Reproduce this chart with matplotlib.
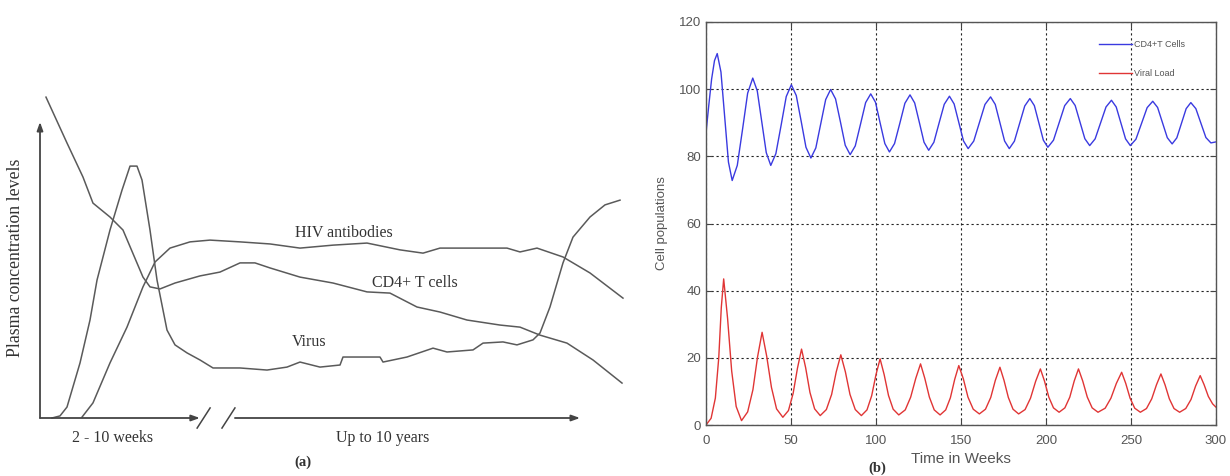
import matplotlib
matplotlib.use("Agg")
import matplotlib.pyplot as plt

# ---------------- Panel (a): schematic (relative units) ----------------
cd4_a_x = [1.11, 5.0, 7.96, 9.81, 12.96, 15.37, 19.07, 20.37, 22.22, 25.0, 29.63, 33.33,
           37.04, 39.81, 42.59, 48.15, 54.26, 60.56, 64.81, 69.81, 74.07, 79.07, 85.19,
           88.89, 92.59, 97.59, 102.41, 107.78]
cd4_a_y = [108.4, 92.9, 81.4, 72.6, 67.9, 63.5, 47.6, 44.3, 43.6, 45.6, 48.0, 49.3,
           52.4, 52.4, 50.7, 47.6, 45.6, 42.6, 42.2, 37.5, 35.8, 33.1, 31.4,
           30.7, 28.0, 25.3, 19.6, 11.8]

virus_a_x = [2.22, 3.70, 5.0, 7.41, 9.26, 10.56, 12.96, 15.19, 16.67, 17.96, 18.89, 20.37,
             21.67, 22.59, 23.52, 25.0, 27.22, 29.63, 32.04, 37.04, 42.04, 45.74, 48.15,
             51.85, 55.56, 56.11, 62.96, 63.52, 67.96, 72.78, 75.37, 80.19, 82.04, 85.74,
             88.33, 91.30, 92.59, 94.44, 96.85, 98.70, 101.85, 104.63, 107.41]
virus_a_y = [0, 0.7, 3.7, 18.6, 33.1, 46.6, 63.5, 77.0, 85.1, 85.1, 80.4, 63.5,
             46.6, 38.2, 29.7, 24.7, 22.0, 19.6, 16.9, 16.9, 16.2, 17.2, 18.9,
             17.2, 17.9, 20.6, 20.6, 18.9, 20.6, 23.6, 22.3, 23.0, 25.3, 25.7,
             24.7, 26.4, 28.7, 37.5, 52.4, 61.1, 67.9, 72.0, 73.6]

antib_a_x = [7.78, 9.81, 12.96, 16.11, 19.07, 21.30, 24.07, 27.78, 31.48, 37.04, 42.59,
             48.15, 54.26, 60.56, 66.67, 70.93, 74.07, 86.48, 88.89, 92.04, 96.85,
             101.85, 107.96]
antib_a_y = [0.3, 5.1, 18.6, 30.7, 44.3, 52.7, 57.4, 59.5, 60.1, 59.5, 58.8,
             57.4, 58.4, 59.1, 56.8, 55.7, 57.4, 57.4, 56.1, 57.4, 54.4,
             49.0, 40.5]

# ---------------- Panel (b): simulation ----------------
cd4_t = [0, 1.6, 3.3, 5.0, 6.6, 8.8, 11.0, 13.2, 15.4, 18.4, 21.5, 24.5, 27.5,
         30.15, 32.8, 35.45, 38.1, 41.1, 44.2, 47.2, 50.2, 53.1, 56.0, 58.8, 61.7,
         64.6, 67.5, 70.4, 73.3, 76.2, 79.1, 81.9, 84.8, 87.8, 90.9, 93.9, 96.9,
         99.7, 102.4, 105.2, 107.9, 110.9, 114.0, 117.0, 120.0, 122.75, 125.5, 128.25,
         131.0, 134.05, 137.1, 140.15, 143.2, 145.95, 148.7, 151.45, 154.2, 157.5,
         160.8, 164.1, 167.4, 170.15, 172.9, 175.65, 178.4, 181.4, 184.45, 187.5,
         190.5, 193.15, 195.8, 198.45, 201.1, 204.4, 207.7, 211.0, 214.3, 217.15,
         220.0, 222.85, 225.7, 228.9, 232.1, 235.3, 238.5, 241.3, 244.05, 246.8,
         249.6, 252.9, 256.2, 259.5, 262.8, 265.65, 268.5, 271.35, 274.2, 276.95,
         279.7, 282.45, 285.2, 288.15, 291.1, 294.05, 297.0, 300.0]
cd4_v = [87.0, 95.0, 103.0, 108.5, 110.6, 105.1, 91.7, 78.3, 72.8, 77.3, 88.05, 98.8, 103.3,
         99.5, 90.3, 81.1, 77.3, 80.8, 89.3, 97.8, 101.3, 98.1, 90.4, 82.7, 79.5,
         82.5, 89.7, 96.9, 99.9, 97.1, 90.2, 83.3, 80.5, 83.1, 89.6, 96.0, 98.6,
         96.1, 90.0, 83.8, 81.3, 83.8, 89.8, 95.8, 98.3, 95.9, 90.1, 84.2,
         81.8, 84.2, 89.9, 95.5, 97.9, 95.6, 90.1, 84.6, 82.3, 84.55,
         90.0, 95.45, 97.7, 95.45, 90.0, 84.55, 82.3, 84.5, 89.75, 95.0,
         97.2, 95.1, 89.95, 84.8, 82.7, 84.8, 89.95, 95.1, 97.2, 95.15,
         90.2, 85.25, 83.2, 85.2, 89.95, 94.7, 96.7, 94.7, 89.95, 85.2,
         83.2, 85.1, 89.8, 94.5, 96.4, 94.55, 90.05, 85.55, 83.7, 85.5,
         89.85, 94.2, 96.0, 94.2, 89.9, 85.6, 84.0, 84.3]

viral_t = [0, 3.0, 5.5, 7.5, 9.0, 10.4, 12.7, 15.1, 17.75, 20.9, 24.5, 27.6, 30.3, 33.0,
           35.7, 38.5, 41.5, 45.2, 48.5, 51.25, 53.8, 56.2, 58.6, 61.15, 63.9, 67.2,
           70.8, 73.9, 76.6, 79.3, 82.0, 84.7, 87.8, 91.4, 94.7, 97.45, 100.0, 102.4,
           104.8, 107.35, 110.1, 113.4, 117.2, 120.4, 123.4, 126.2, 128.7, 131.4, 134.25,
           137.7, 141.0, 143.75, 146.3, 148.7, 151.4, 154.1, 157.2, 160.8, 164.4, 167.5,
           170.2, 172.9, 175.3, 177.85, 180.6, 183.9, 187.7, 190.9, 193.9, 196.7, 199.1,
           201.65, 204.4, 207.7, 211.1, 214.0, 216.6, 219.1, 221.6, 224.3, 227.15, 230.6,
           234.8, 238.2, 241.4, 244.5, 246.9, 249.45, 252.2, 255.5, 259.1, 262.2, 265.0,
           267.6, 270.0, 272.55, 275.3, 278.6, 282.2, 285.3, 288.0, 290.7, 293.0, 295.5,
           298.0, 300.0]
viral_v = [0, 2.0, 8.0, 20.0, 35.0, 43.5, 31.7, 16.1, 5.5, 1.3, 3.9, 10.5, 20.2, 27.6,
           20.5, 11.2, 4.8, 2.3, 4.3, 9.4, 16.9, 22.6, 17.1, 9.7, 4.8, 2.8,
           4.6, 9.1, 15.8, 20.9, 15.8, 9.1, 4.6, 2.8, 4.5, 8.7, 15.0, 19.7,
           15.0, 8.8, 4.7, 3.0, 4.5, 8.3, 13.9, 18.2, 13.9, 8.3, 4.5,
           3.0, 4.5, 8.1, 13.6, 17.7, 13.7, 8.3, 4.7, 3.3, 4.7, 8.2,
           13.3, 17.2, 13.3, 8.2, 4.7, 3.3, 4.6, 8.0, 13.0, 16.7, 13.1,
           8.3, 5.1, 3.8, 5.1, 8.3, 13.1, 16.7, 13.1, 8.3, 5.1, 3.8,
           5.0, 8.0, 12.4, 15.7, 12.4, 8.0, 5.0, 3.8, 4.9, 7.8, 12.0,
           15.2, 12.0, 7.8, 4.9, 3.8, 4.9, 7.6, 11.6, 14.7, 12.0, 8.5,
           6.3, 5.3]

x_ticks_b = [0, 50, 100, 150, 200, 250, 300]
y_ticks_b = [0, 20, 40, 60, 80, 100, 120]

W, H = 1230, 476
fig = plt.figure(figsize=(W / 100, H / 100), dpi=100)
fig.patch.set_facecolor("white")

# ---------- Panel (a) ----------
serif = ["Liberation Serif", "DejaVu Serif"]
gray_line = "#5a5a5a"
txt_col = "#333333"
axa = fig.add_axes([40 / W, 1 - 418 / H, 540 / W, 296 / H])
axa.set_xlim(0, 100)
axa.set_ylim(0, 100)
axa.axis("off")
for xs, ys in [(cd4_a_x, cd4_a_y), (virus_a_x, virus_a_y), (antib_a_x, antib_a_y)]:
    axa.plot(xs, ys, color=gray_line, lw=1.1, clip_on=False)

# axes arrows
arrow_kw = dict(arrowstyle="-|>,head_length=0.5,head_width=0.18", color="#444444", lw=1.3,
                shrinkA=0, shrinkB=0)
axa.annotate("", xy=(0, 100), xytext=(0, 0), arrowprops=arrow_kw, annotation_clip=False)
axa.annotate("", xy=(29.6, 0), xytext=(0, 0), arrowprops=arrow_kw, annotation_clip=False)
axa.annotate("", xy=(100, 0), xytext=(36.1, 0), arrowprops=arrow_kw, annotation_clip=False)
axa.plot([29.1, 31.5], [-3.4, 3.4], color="#444444", lw=1.1, clip_on=False)
axa.plot([33.7, 36.1], [-3.4, 3.4], color="#444444", lw=1.1, clip_on=False)

axa.text(56.3, 62.5, "HIV antibodies", family=serif, fontsize=11.5, color=txt_col,
         ha="center", va="center")
axa.text(69.4, 45.6, "CD4+ T cells", family=serif, fontsize=11.5, color=txt_col,
         ha="center", va="center")
axa.text(49.8, 25.7, "Virus", family=serif, fontsize=11.5, color=txt_col,
         ha="center", va="center")
axa.text(13.5, -6.8, "2 - 10 weeks", family=serif, fontsize=11.5, color=txt_col,
         ha="center", va="center")
axa.text(63.5, -6.8, "Up to 10 years", family=serif, fontsize=11.5, color=txt_col,
         ha="center", va="center")
axa.text(48.7, -14.9, "(a)", family=serif, fontsize=10.5, color=txt_col,
         fontweight="bold", ha="center", va="center")
axa.text(-4.6, 54.0, "Plasma concentration levels", family=serif, fontsize=12.8,
         color=txt_col, rotation=90, ha="center", va="center")

# ---------- Panel (b) ----------
sans = ["Liberation Sans", "DejaVu Sans"]
axb = fig.add_axes([706 / W, 1 - 425 / H, 510 / W, 403 / H])
axb.plot(cd4_t, cd4_v, color="#3a3ae0", lw=1.0, label="CD4+T Cells")
axb.plot(viral_t, viral_v, color="#e03535", lw=1.0, label="Viral Load")
axb.set_xlim(0, 300)
axb.set_ylim(0, 120)
axb.set_xticks(x_ticks_b)
axb.set_yticks(y_ticks_b)
axb.tick_params(direction="in", length=4, top=True, right=True, labelsize=9.5,
                colors="#444444", labelcolor="#555555")
axb.tick_params(axis="x", pad=7)
for lab in axb.get_xticklabels() + axb.get_yticklabels():
    lab.set_family(sans)
axb.grid(True, linestyle=(0, (2, 2.5)), color="#222222", lw=0.8)
for sp in axb.spines.values():
    sp.set_color("#555555")
    sp.set_linewidth(1.0)
axb.set_ylabel("Cell populations", family=sans, fontsize=9.5, color="#555555")
axb.yaxis.set_label_coords(-0.075, 0.5)
axb.set_xlabel("Time in Weeks", family=sans, fontsize=11, color="#555555")
axb.xaxis.set_label_coords(0.5, -0.067)
leg = axb.legend(loc="upper right", bbox_to_anchor=(0.955, 0.975), frameon=False,
                 prop={"family": sans, "size": 6.5}, handlelength=3.6, handletextpad=0.25,
                 labelspacing=2.2, labelcolor="#555555")
fig.text(877 / W, 1 - 468 / H, "(b)", family=serif, fontsize=10.5, fontweight="bold",
         color=txt_col, ha="center", va="center")

fig.savefig("out.png", dpi=100, facecolor="white")
